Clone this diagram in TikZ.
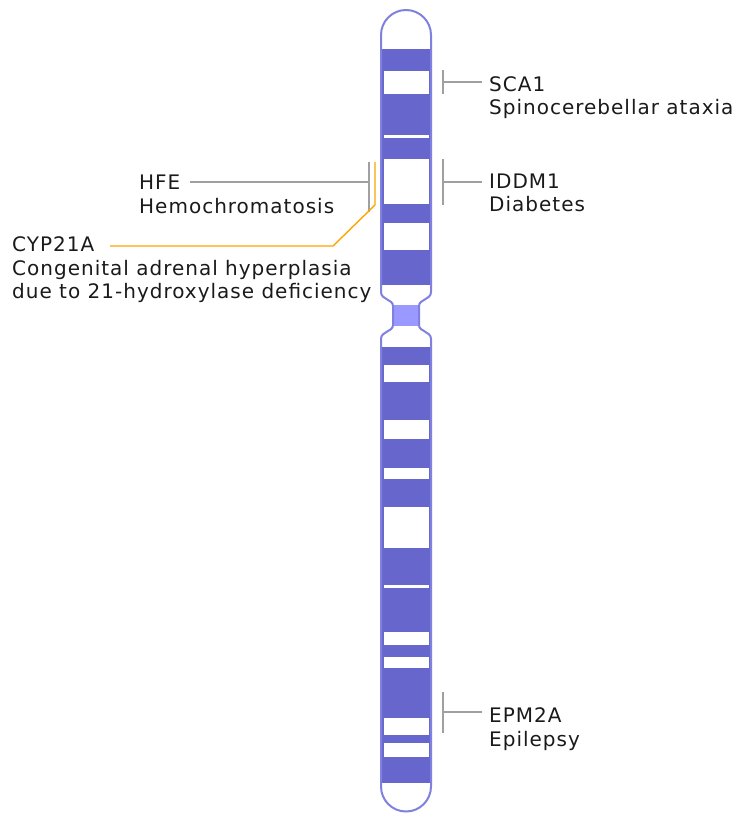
\documentclass[tikz,border=0pt]{standalone}
\usepackage{fontspec}
\setmainfont{DejaVu Sans}[LetterSpace=5]
\definecolor{chrdark}{HTML}{6666CC}
\definecolor{chrline}{HTML}{8080E0}
\definecolor{chrcen}{HTML}{9999FF}
\definecolor{tickgray}{HTML}{A0A0A0}
\definecolor{tickorange}{HTML}{FFA500}
\definecolor{txt}{HTML}{1A1A1A}
\begin{document}
\begin{tikzpicture}[x=1pt,y=-1pt,
  lbl/.style={anchor=base west, inner sep=0pt, font=\fontsize{20}{23.5}\selectfont, text=txt},
  tickline/.style={draw=tickgray, line width=1.4pt},
  orangeline/.style={draw=tickorange, line width=1.4pt},
  chroutline/.style={draw=chrline, line width=2pt}]
\useasboundingbox (0,0) rectangle (740,814);
\def\chrshape{(381,35) .. controls (381,21.2) and (392.2,10) .. (406,10)
  .. controls (419.8,10) and (431,21.2) .. (431,35)
  -- (431,292) .. controls (431,300) and (419,299) .. (419,306)
  -- (419,325) .. controls (419,332) and (431,331) .. (431,339)
  -- (431,786.5) .. controls (431,800.3) and (419.8,811.5) .. (406,811.5)
  .. controls (392.2,811.5) and (381,800.3) .. (381,786.5)
  -- (381,339) .. controls (381,331) and (393,332) .. (393,325)
  -- (393,306) .. controls (393,299) and (381,300) .. (381,292) -- cycle}
% chromosome body
\begin{scope}
  \clip \chrshape;
  \fill[chrdark] (370,0) rectangle (442,814);
  \fill[white] (370,0) rectangle (442,49);
  \fill[white] (370,783) rectangle (442,814);
  \fill[white] (370,285) rectangle (442,347);
  \fill[chrcen] (370,305) rectangle (442,326);
  \foreach \a/\b in {71/94,135/137.5,159/204,223/250,365/382,420/439,468/479,507/548,585/588,632/645,657/668,718/735,743/757}
    \fill[white] (384,\a) rectangle (428.5,\b);
\end{scope}
\draw[chroutline] \chrshape;
% coordinates of markers
\coordinate (s1t) at (443,70);  \coordinate (s1b) at (443,94);  \coordinate (s1m) at (443,82);  \coordinate (s1e) at (482,82);
\coordinate (i1t) at (443,159); \coordinate (i1b) at (443,205); \coordinate (i1m) at (443,182); \coordinate (i1e) at (482,182);
\coordinate (e2t) at (443,692); \coordinate (e2b) at (443,733); \coordinate (e2m) at (443,712); \coordinate (e2e) at (482,712);
\coordinate (hft) at (369,162); \coordinate (hfb) at (369,212); \coordinate (hfm) at (369,182); \coordinate (hfe) at (190,182);
\coordinate (cyt) at (375,162); \coordinate (cyb) at (375,205); \coordinate (cyk) at (333,246); \coordinate (cye) at (110,246);
% marker lines
\draw[tickline] (s1t) -- (s1b); \draw[tickline] (s1m) -- (s1e);
\draw[tickline] (i1t) -- (i1b); \draw[tickline] (i1m) -- (i1e);
\draw[tickline] (e2t) -- (e2b); \draw[tickline] (e2m) -- (e2e);
\draw[tickline] (hft) -- (hfb); \draw[tickline] (hfm) -- (hfe);
\draw[orangeline] (cyt) -- (cyb) -- (cyk) -- (cye);
% labels
\node[lbl] (sca1) at (489,91) {SCA1};
\node[lbl] (sca1d) at (489,114) {Spinocerebellar ataxia};
\node[lbl] (iddm1) at (489,188) {IDDM1};
\node[lbl] (iddm1d) at (489,211) {Diabetes};
\node[lbl] (epm2a) at (489,722) {EPM2A};
\node[lbl] (epm2ad) at (489,746) {Epilepsy};
\node[lbl] (hfen) at (139,189) {HFE};
\node[lbl] (hfed) at (139,213) {Hemochromatosis};
\node[lbl] (cyp) at (12,251) {CYP21A};
\node[lbl] (cypd1) at (12,275) {Congenital adrenal hyperplasia};
\node[lbl] (cypd2) at (12,298) {due to 21-hydroxylase deficiency};
\end{tikzpicture}
\end{document}
